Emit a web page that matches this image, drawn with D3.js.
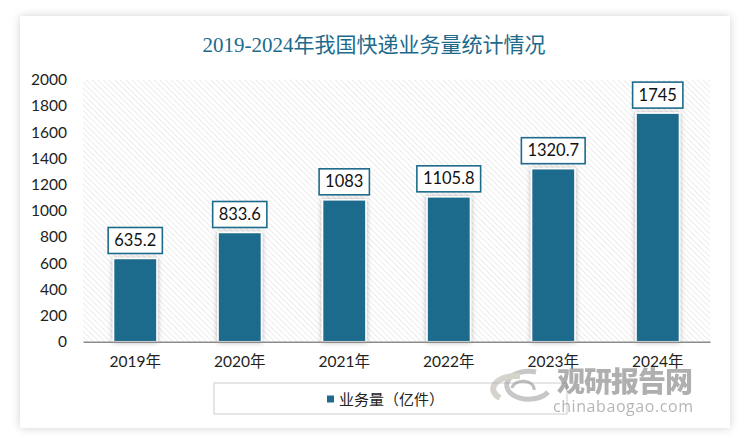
<!DOCTYPE html>
<html>
<head>
<meta charset="utf-8">
<script src="https://cdn.jsdelivr.net/npm/d3@7"></script>
<style>
  html, body { margin: 0; padding: 0; background: #fff; }
  svg { display: block; }
</style>
</head>
<body>
<div id="chart"></div>
<script>
// Data
const years = ["2019年", "2020年", "2021年", "2022年", "2023年", "2024年"];
const volumes = [635.2, 833.6, 1083, 1105.8, 1320.7, 1745];
const yTicks = [0, 200, 400, 600, 800, 1000, 1200, 1400, 1600, 1800, 2000];
const titleText = "2019-2024年我国快递业务量统计情况";
const legendText = "业务量（亿件）";

const W = 750, H = 445;
const teal = "#1d6a8c";
const sansFont = "Lato, 'Noto Sans CJK SC', sans-serif";

const svg = d3.select("#chart").append("svg")
    .attr("width", W)
    .attr("height", H);

const defs = svg.append("defs");

// Card shadow
const cardShadow = defs.append("filter").attr("id", "cardShadow")
    .attr("x", "-5%").attr("y", "-5%").attr("width", "110%").attr("height", "110%");
cardShadow.append("feDropShadow")
    .attr("dx", 0).attr("dy", 0).attr("stdDeviation", 4)
    .attr("flood-color", "#000").attr("flood-opacity", 0.18);

// Bar shadow
const barShadow = defs.append("filter").attr("id", "barShadow")
    .attr("x", "-30%").attr("y", "-10%").attr("width", "160%").attr("height", "120%");
barShadow.append("feDropShadow")
    .attr("dx", 0).attr("dy", 0).attr("stdDeviation", 2.5)
    .attr("flood-color", "#000").attr("flood-opacity", 0.3);

// Hatched plot background ("\" stripes)
const hatch = defs.append("pattern").attr("id", "hatch")
    .attr("patternUnits", "userSpaceOnUse")
    .attr("width", 4).attr("height", 4)
    .attr("patternTransform", "rotate(-45)");
hatch.append("rect").attr("width", 4).attr("height", 4).attr("fill", "#fff");
hatch.append("line")
    .attr("x1", 0).attr("y1", 0).attr("x2", 0).attr("y2", 4)
    .attr("stroke", "#e2e2e2").attr("stroke-width", 1.3);

// Card
svg.append("rect")
    .attr("x", 20).attr("y", 16)
    .attr("width", 710).attr("height", 412)
    .attr("fill", "#fff")
    .attr("filter", "url(#cardShadow)");

// Title
svg.append("text")
    .attr("x", 374).attr("y", 52)
    .attr("text-anchor", "middle")
    .attr("font-family", "'Liberation Serif', 'Noto Sans CJK SC', serif")
    .attr("font-size", 21)
    .attr("fill", teal)
    .text(titleText);

// Scales
const plot = { left: 83, right: 710, top: 79.7, bottom: 341.7 };

const x = d3.scaleBand()
    .domain(years)
    .range([plot.left, plot.right])
    .paddingInner(0.585)
    .paddingOuter(0.2925);

const y = d3.scaleLinear()
    .domain([0, 2000])
    .range([plot.bottom, plot.top]);

// Plot background
svg.append("rect")
    .attr("x", plot.left).attr("y", plot.top)
    .attr("width", plot.right - plot.left)
    .attr("height", plot.bottom - plot.top)
    .attr("fill", "url(#hatch)");

// Y axis
const yAxis = svg.append("g")
    .attr("transform", `translate(${plot.left},0)`)
    .call(d3.axisLeft(y).tickValues(yTicks).tickFormat(d3.format("d")).tickSize(0).tickPadding(16));
yAxis.select(".domain").remove();
yAxis.selectAll("text")
    .attr("font-family", sansFont)
    .attr("font-size", 15.5)
    .attr("fill", "#222");

// Bars
const data = years.map((yr, i) => ({ year: yr, value: volumes[i] }));

svg.append("g").selectAll("rect")
    .data(data)
    .join("rect")
    .attr("x", d => x(d.year))
    .attr("y", d => y(d.value))
    .attr("width", x.bandwidth())
    .attr("height", d => y(0) - y(d.value))
    .attr("fill", teal)
    .attr("stroke", "#fff")
    .attr("stroke-width", 1.5)
    .attr("filter", "url(#barShadow)");

// X axis
const xAxis = svg.append("g")
    .attr("transform", `translate(0,${plot.bottom})`)
    .call(d3.axisBottom(x).tickSize(0).tickPadding(14));
xAxis.select(".domain")
    .attr("stroke", "#8c8c8c")
    .attr("stroke-width", 1.5);
xAxis.selectAll("text")
    .attr("font-family", sansFont)
    .attr("font-size", 15.5)
    .attr("fill", "#222");

// Value labels in boxes
const labels = svg.append("g").selectAll("g")
    .data(data)
    .join("g")
    .attr("transform", d => `translate(${x(d.year) + x.bandwidth() / 2},${y(d.value) - 5})`);

labels.each(function (d) {
    const g = d3.select(this);
    const box = g.append("rect");
    const t = g.append("text")
        .attr("text-anchor", "middle")
        .attr("y", -7.5)
        .attr("font-family", sansFont)
        .attr("font-size", 16.5)
        .attr("fill", "#111")
        .text(d.value);
    const w = t.node().getBBox().width + 12;
    box.attr("x", -w / 2).attr("y", -26)
        .attr("width", w).attr("height", 26)
        .attr("fill", "#fff")
        .attr("stroke", teal)
        .attr("stroke-width", 1.6);
});

// Legend
svg.append("rect")
    .attr("x", 214).attr("y", 383)
    .attr("width", 353).attr("height", 31)
    .attr("fill", "#fff")
    .attr("stroke", "#d6d6d6")
    .attr("stroke-width", 1.2);
svg.append("rect")
    .attr("x", 327).attr("y", 395.5)
    .attr("width", 7).attr("height", 7)
    .attr("fill", teal);
svg.append("text")
    .attr("x", 339).attr("y", 404.5)
    .attr("font-family", "'Noto Sans CJK SC', sans-serif")
    .attr("font-size", 15)
    .attr("fill", "#222")
    .text(legendText);

// Watermark
const wm = svg.append("g").attr("opacity", 0.55);
wm.append("path")
    .attr("d", "M536,372 A22,14 0 1,0 548,392")
    .attr("fill", "none").attr("stroke", "#9a9a9a").attr("stroke-width", 5);
wm.append("path")
    .attr("d", "M500,398 A24,13 0 0,1 520,376")
    .attr("fill", "none").attr("stroke", "#b5b0a5").attr("stroke-width", 6);
wm.append("path")
    .attr("d", "M512,388 A10,7 0 1,1 534,390")
    .attr("fill", "none").attr("stroke", "#8a8a8a").attr("stroke-width", 3);
wm.append("text")
    .attr("x", 557).attr("y", 392)
    .attr("font-family", "'Noto Sans CJK SC', sans-serif")
    .attr("font-weight", 900)
    .attr("font-size", 28)
    .attr("fill", "#6e6e6e")
    .attr("textLength", 136)
    .text("观研报告网");
wm.append("text")
    .attr("x", 553).attr("y", 412)
    .attr("font-family", "'Open Sans', sans-serif")
    .attr("font-size", 16)
    .attr("fill", "#7a7a7a")
    .attr("textLength", 140)
    .text("chinabaogao.com");
</script>
</body>
</html>
